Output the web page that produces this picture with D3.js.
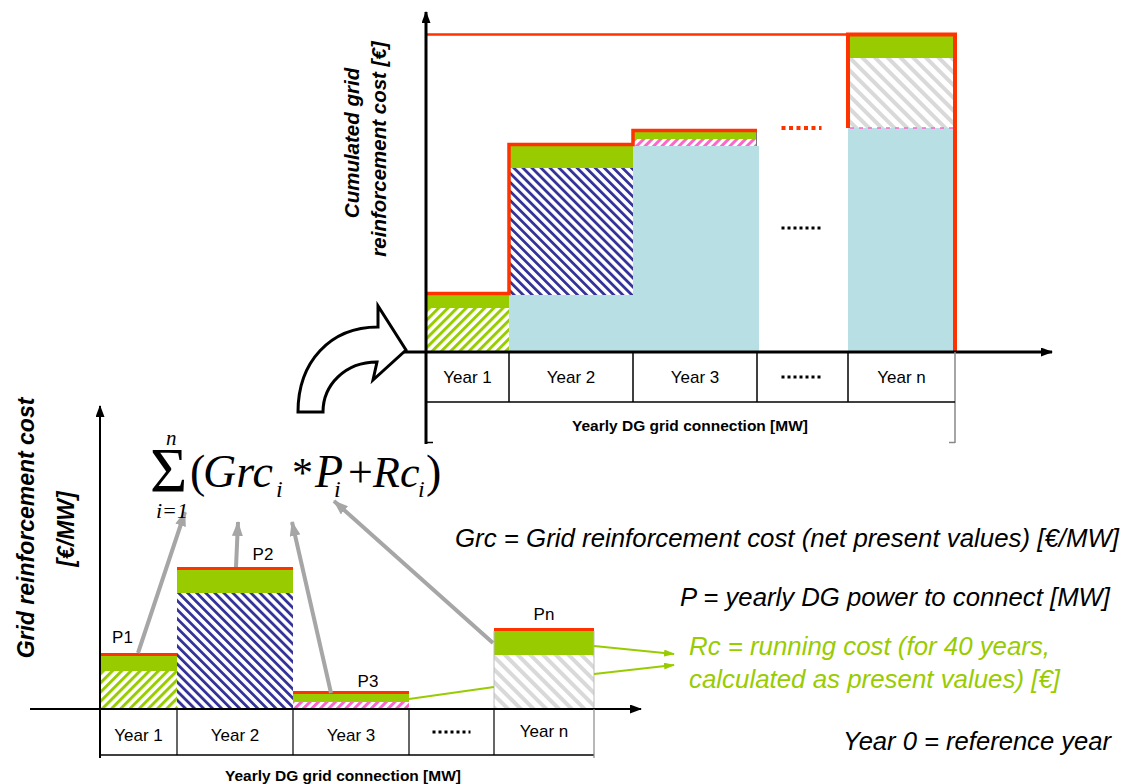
<!DOCTYPE html>
<html>
<head>
<meta charset="utf-8">
<title>Grid reinforcement cost</title>
<script src="https://cdnjs.cloudflare.com/ajax/libs/d3/7.8.5/d3.min.js"></script>
<style>
    body { margin: 0; background: #fff; }
    text { font-family: "Liberation Sans", Arial, sans-serif; }
    text.serif { font-family: "Liberation Serif", "Times New Roman", serif; }
</style>
</head>
<body>
<script>
// categories (the 4th one is the "......" gap)
let years = ["Year 1", "Year 2", "Year 3", "dots", "Year n"]

// yearly DG grid connection [MW] -> width of each column
let topMW = [8.3, 12.4, 12.4, 9.1, 10.7]
let bottomMW = [7.7, 11.6, 11.6, 8.5, 10.0]

// grid reinforcement cost (Grc*P) and running cost (Rc) per year
let bottomGrc = [38, 116, 7, 0, 54]
let bottomRc = [15, 23, 8, 0, 24]
let topGrc = [43, 127, 7, 4, 70]
let topRc = [13, 22, 7, 0, 22]

let hatchOf = ["hGreen", "hBlue", "hPink", null, "hGrey"]

let red = "#ff3300",
    green = "#99cc00",
    lightBlue = "#b8dfe3",
    grey = "#a6a6a6"

let svg = d3.select('body').append('svg')
    .attr('width', 1128)
    .attr('height', 784)

let defs = svg.append('defs')

let hatch = function(id, color, gap, sw, angle){
    let p = defs.append('pattern')
        .attr('id', id)
        .attr('patternUnits', 'userSpaceOnUse')
        .attr('width', gap).attr('height', gap)
        .attr('patternTransform', 'rotate(' + angle + ')')
    p.append('rect').attr('width', gap).attr('height', gap).attr('fill', '#fff')
    p.append('rect').attr('width', sw).attr('height', gap).attr('fill', color)
}
hatch('hGreen', green, 6.5, 3, 45)
hatch('hBlue', '#333399', 6.4, 2.8, -45)
hatch('hPink', '#ff66cc', 6, 3, 45)
hatch('hGrey', '#d9d9d9', 9, 4, -45)

let marker = function(id, color, w, h){
    defs.append('marker')
        .attr('id', id)
        .attr('markerUnits', 'userSpaceOnUse')
        .attr('markerWidth', w).attr('markerHeight', h)
        .attr('refX', w - 1).attr('refY', h / 2)
        .attr('orient', 'auto')
        .append('path')
        .attr('d', 'M0,0L' + w + ',' + (h / 2) + 'L0,' + h + 'Z')
        .attr('fill', color)
}
marker('mBlack', '#000', 12, 9)
marker('mGrey', grey, 15, 11)
marker('mGreen', green, 11, 7)

let edgesOf = function(mw){ return [0].concat(Array.from(d3.cumsum(mw))) }
let line = function(g, x1, y1, x2, y2, color, w){
    return g.append('line')
        .attr('x1', x1).attr('y1', y1).attr('x2', x2).attr('y2', y2)
        .attr('stroke', color).attr('stroke-width', w)
}

// ---------------- top chart: cumulated cost ----------------
let gTop = svg.append('g')
let eT = edgesOf(topMW)
let xT = d3.scaleLinear().domain([0, d3.sum(topMW)]).range([426, 955])
let yT = d3.scaleLinear().domain([0, 340]).range([351, 11])
let totT = Array.from(d3.cumsum(years.map((d, i) => topGrc[i] + topRc[i])))
let baseT = [0].concat(totT.slice(0, -1))

years.forEach(function(d, i){
    if (d == "dots") return
    let x0 = xT(eT[i]), w = xT(eT[i + 1]) - x0
    if (baseT[i] > 0)
        gTop.append('rect').attr('x', x0).attr('width', w + (i == 2 ? 2 : 0))
            .attr('y', yT(baseT[i])).attr('height', yT(0) - yT(baseT[i]))
            .attr('fill', lightBlue)
    gTop.append('rect').attr('x', x0).attr('width', w)
        .attr('y', yT(baseT[i] + topGrc[i])).attr('height', yT(baseT[i]) - yT(baseT[i] + topGrc[i]))
        .attr('fill', 'url(#' + hatchOf[i] + ')')
    gTop.append('rect').attr('x', x0).attr('width', w)
        .attr('y', yT(totT[i])).attr('height', yT(baseT[i] + topGrc[i]) - yT(totT[i]))
        .attr('fill', green)
})
// thin grey edge at the end of year 3
line(gTop, xT(eT[3]) - 0.5, yT(totT[2]) - 2, xT(eT[3]) - 0.5, yT(baseT[2]), '#777', 1)
// pink dashes at the base of year n
line(gTop, xT(eT[4]) + 2, yT(baseT[4]), xT(eT[5]), yT(baseT[4]), '#ff66cc', 1.5)
    .attr('stroke-dasharray', '4,5')

// red step line
let n = years.length - 1
gTop.append('path')
    .attr('d', 'M' + xT(0) + ',' + (yT(totT[0]) - 1.5) +
        'H' + xT(eT[1]) + 'V' + (yT(totT[1]) - 1.5) +
        'H' + xT(eT[2]) + 'V' + (yT(totT[2]) - 1.5) +
        'H' + xT(eT[3]))
    .attr('fill', 'none').attr('stroke', red).attr('stroke-width', 3.5)
gTop.append('path')
    .attr('d', 'M' + xT(eT[n]) + ',' + yT(baseT[n]) + 'V' + (yT(totT[n]) - 1.5) +
        'H' + xT(eT[n + 1]) + 'V' + yT(0))
    .attr('fill', 'none').attr('stroke', red).attr('stroke-width', 4)
line(gTop, xT(0), yT(totT[n]) - 1.5, xT(eT[n]), yT(totT[n]) - 1.5, red, 2.5)
let midDots = (xT(eT[3]) + xT(eT[4])) / 2
line(gTop, midDots - 21, yT(totT[3]), midDots + 19, yT(totT[3]), red, 4).attr('stroke-dasharray', '4,3.5')
line(gTop, midDots - 21, yT(123), midDots + 21, yT(123), '#000', 3).attr('stroke-dasharray', '3,3')

// axes
line(gTop, 426, 444, 426, 12, '#000', 3).attr('marker-end', 'url(#mBlack)')
line(gTop, 402, 352, 1052, 352, '#000', 3).attr('marker-end', 'url(#mBlack)')
line(gTop, 426, 442.5, 433, 442.5, '#000', 1.5)
line(gTop, xT(eT[5]), 352, xT(eT[5]), 443, '#888', 1.5)
line(gTop, xT(eT[5]) - 6, 442.5, xT(eT[5]), 442.5, '#888', 1.5)
line(gTop, 426, 402, xT(eT[5]), 402, '#000', 1.5)
eT.slice(1, -1).forEach(e => line(gTop, xT(e), 352, xT(e), 402, '#000', 1.5))
years.forEach(function(d, i){
    let cx = (xT(eT[i]) + xT(eT[i + 1])) / 2
    if (d == "dots")
        line(gTop, cx - 21, 377, cx + 21, 377, '#000', 3).attr('stroke-dasharray', '3,3')
    else
        gTop.append('text').attr('x', cx).attr('y', 383).attr('text-anchor', 'middle')
            .attr('font-size', 17).text(d)
})
gTop.append('text').attr('x', 690).attr('y', 431).attr('text-anchor', 'middle')
    .attr('font-size', 15.5).attr('font-weight', 'bold').text('Yearly DG grid connection [MW]')
gTop.append('text').attr('transform', 'translate(359,143) rotate(-90)')
    .attr('text-anchor', 'middle').attr('font-size', 20.5).attr('font-weight', 'bold')
    .attr('font-style', 'italic').text('Cumulated grid')
gTop.append('text').attr('transform', 'translate(386,149) rotate(-90)')
    .attr('text-anchor', 'middle').attr('font-size', 20.5).attr('font-weight', 'bold')
    .attr('font-style', 'italic').text('reinforcement cost [€]')

// ---------------- bottom chart: yearly cost ----------------
let gBot = svg.append('g')
let eB = edgesOf(bottomMW)
let xB = d3.scaleLinear().domain([0, d3.sum(bottomMW)]).range([100, 594])
let yB = d3.scaleLinear().domain([0, 300]).range([709, 409])

years.forEach(function(d, i){
    if (d == "dots") return
    let x0 = xB(eB[i]), w = xB(eB[i + 1]) - x0
    gBot.append('rect').attr('x', x0).attr('width', w)
        .attr('y', yB(bottomGrc[i])).attr('height', yB(0) - yB(bottomGrc[i]))
        .attr('fill', 'url(#' + hatchOf[i] + ')')
    gBot.append('rect').attr('x', x0).attr('width', w)
        .attr('y', yB(bottomGrc[i] + bottomRc[i])).attr('height', yB(bottomGrc[i]) - yB(bottomGrc[i] + bottomRc[i]))
        .attr('fill', green)
    gBot.append('rect').attr('x', x0).attr('width', w)
        .attr('y', yB(bottomGrc[i] + bottomRc[i]) - 3).attr('height', 3)
        .attr('fill', red)
    if (d == "Year n") {
        line(gBot, x0, yB(bottomGrc[i] + bottomRc[i]), x0, yB(0), '#bbb', 1)
        line(gBot, x0 + w, yB(bottomGrc[i] + bottomRc[i]), x0 + w, yB(0), '#bbb', 1)
    }
})

line(gBot, 100, 758, 100, 406, '#000', 2).attr('marker-end', 'url(#mBlack)')
line(gBot, 30, 709, 641, 709, '#000', 2).attr('marker-end', 'url(#mBlack)')
line(gBot, 100, 755, xB(eB[5]), 755, '#000', 1.5)
eB.slice(1, -1).forEach(e => line(gBot, xB(e), 709, xB(e), 755, '#000', 1.2))
line(gBot, xB(eB[5]), 709, xB(eB[5]), 758, '#888', 1.2)
years.forEach(function(d, i){
    let cx = (xB(eB[i]) + xB(eB[i + 1])) / 2
    if (d == "dots")
        line(gBot, cx - 19, 732, cx + 19, 732, '#000', 3).attr('stroke-dasharray', '3,3')
    else
        gBot.append('text').attr('x', cx).attr('y', d == "Year n" ? 737 : 741)
            .attr('text-anchor', 'middle').attr('font-size', 17).text(d)
})
gBot.append('text').attr('x', 343).attr('y', 781).attr('text-anchor', 'middle')
    .attr('font-size', 15.5).attr('font-weight', 'bold').text('Yearly DG grid connection [MW]')
gBot.append('text').attr('transform', 'translate(34,528) rotate(-90)')
    .attr('text-anchor', 'middle').attr('font-size', 23).attr('font-weight', 'bold')
    .attr('font-style', 'italic').text('Grid reinforcement cost')
gBot.append('text').attr('transform', 'translate(74,529) rotate(-90)')
    .attr('text-anchor', 'middle').attr('font-size', 23).attr('font-weight', 'bold')
    .attr('font-style', 'italic').text('[€/MW]')

// P labels above the bars
let pLabels = ["P1", "P2", "P3", "", "Pn"]
let pGap = [13, 10, 7, 0, 11]
years.forEach(function(d, i){
    if (!pLabels[i]) return
    gBot.append('text')
        .attr('x', (xB(eB[i]) + xB(eB[i + 1])) / 2 + (i == 0 ? -16 : i == 1 ? 28 : i == 2 ? 17 : 0))
        .attr('y', yB(bottomGrc[i] + bottomRc[i]) - pGap[i])
        .attr('text-anchor', 'middle').attr('font-size', 17).text(pLabels[i])
})

// grey arrows from the bars to the formula, [MW, cost] in the bottom scales
let greyArrows = [
    [[3.8, 56], [8.5, 197]],
    [[13.6, 142], [13.8, 187]],
    [[23.1, 16], [19.2, 187]],
    [[39.3, 66], [23.4, 208]]
]
greyArrows.forEach(a => line(gBot, xB(a[0][0]), yB(a[0][1]), xB(a[1][0]), yB(a[1][1]), grey, 4)
    .attr('marker-end', 'url(#mGrey)'))

// green connectors towards the Rc note
line(gBot, xB(eB[3]), yB(10), xB(eB[4]), yB(22), green, 2)
let greenArrows = [[[49.4, 63], [57.4, 55]], [[49.4, 35], [57.4, 44]]]
greenArrows.forEach(a => line(gBot, xB(a[0][0]), yB(a[0][1]), xB(a[1][0]), yB(a[1][1]), green, 2)
    .attr('marker-end', 'url(#mGreen)'))

// formula: sum over i of (Grc_i * P_i + Rc_i), one text with positioned pieces
let formula = [
    ['Σ', 150, 492, 64, 'normal'], ['n', 166, 445, 21, 'italic'], ['i=1', 156, 518, 22, 'italic'],
    ['(', 190, 487, 46, 'normal'], ['Grc', 203, 487, 46, 'italic'], ['i', 276, 497, 24, 'italic'],
    ['*', 292, 487, 42, 'normal'], ['P', 315, 487, 46, 'italic'], ['i', 334, 497, 24, 'italic'],
    ['+', 348, 487, 44, 'normal'], ['Rc', 373, 487, 44, 'italic'], ['i', 418, 497, 24, 'italic'],
    [')', 426, 487, 46, 'normal']
]
let ft = svg.append('text').attr('class', 'serif')
formula.forEach(p => ft.append('tspan').attr('x', p[1]).attr('y', p[2])
    .attr('font-size', p[3]).attr('font-style', p[4]).text(p[0]))

// curved arrow from the yearly chart to the cumulated chart
svg.append('path')
    .attr('d', 'M298,412C298,362 330,327 378,327L378,306L406,350L373,380L377,362C345,362 323,385 323,412Z')
    .attr('fill', '#fff').attr('stroke', '#000').attr('stroke-width', 3).attr('stroke-linejoin', 'miter')

// notes
let note = function(txt, x, y, len, color){
    svg.append('text').attr('x', x).attr('y', y).attr('font-size', 25).attr('font-style', 'italic')
        .attr('fill', color).attr('textLength', len).attr('lengthAdjust', 'spacingAndGlyphs').text(txt)
}
note('Grc = Grid reinforcement cost (net present values) [€/MW]', 455, 547, 664, '#000')
note('P = yearly DG power to connect [MW]', 680, 606, 430, '#000')
note('Rc = running cost (for 40 years,', 689, 655, 361, green)
note('calculated as present values) [€]', 689, 688, 371, green)
note('Year 0 = reference year', 843, 750, 268, '#000')
</script>
</body>
</html>
